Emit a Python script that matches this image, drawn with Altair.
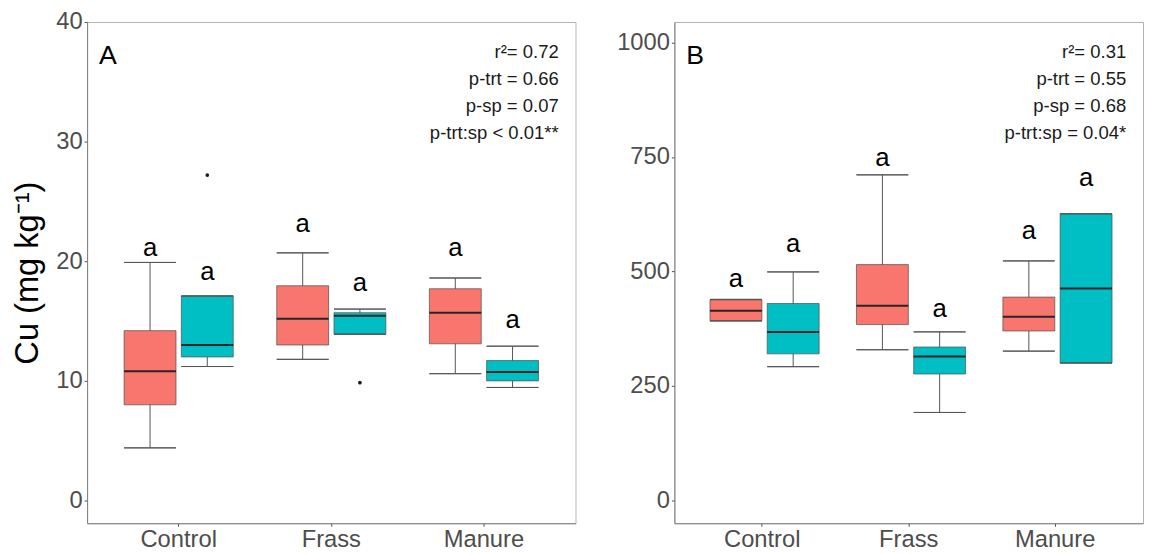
import altair as alt
import pandas as pd

# ---------------- data ----------------
categories = ["Control", "Frass", "Manure"]
species_levels = ["Species 1", "Species 2"]
treatments = ["Control", "Control", "Frass", "Frass", "Manure", "Manure"]
species = ["Species 1", "Species 2", "Species 1", "Species 2", "Species 1", "Species 2"]

# Panel A (Cu, mg/kg)
a_lower = [4.4, 11.2, 11.8, 13.9, 10.6, 9.45]
a_q1 = [8.0, 12.0, 13.0, 13.9, 13.1, 10.0]
a_median = [10.8, 13.0, 15.2, 15.45, 15.7, 10.75]
a_q3 = [14.2, 17.1, 17.95, 15.7, 17.7, 11.7]
a_upper = [19.9, 17.1, 20.7, 16.0, 18.6, 12.9]
a_letter_y = [21.0, 19.0, 23.0, 18.05, 21.0, 15.0]
a_out_trt = ["Control", "Frass"]
a_out_sp = ["Species 2", "Species 2"]
a_out_val = [27.2, 9.85]
a_stats = ["r²= 0.72", "p-trt = 0.66", "p-sp = 0.07", "p-trt:sp < 0.01**"]
a_ticks = [0, 10, 20, 30, 40]

# Panel B
b_lower = [392, 292, 329, 192, 326, 300]
b_q1 = [392, 320, 384, 276, 370, 300]
b_median = [414, 368, 425, 314, 401, 463]
b_q3 = [438, 430, 515, 335, 444, 626]
b_upper = [439, 499, 711, 368, 523, 626]
b_letter_y = [481, 557, 746, 415, 586, 702]
b_out_trt = []
b_out_sp = []
b_out_val = []
b_stats = ["r²= 0.31", "p-trt = 0.55", "p-sp = 0.68", "p-trt:sp = 0.04*"]
b_ticks = [0, 250, 500, 750, 1000]

letters = ["a", "a", "a", "a", "a", "a"]
colors = ["#F8766D", "#00BFC4"]
FONT = "Liberation Sans"


def make_panel(lower, q1, med, q3, upper, letter_y, out_trt, out_sp, out_val,
               stats, panel_letter, domain, ticks, width, height, ytitle):
    df = pd.DataFrame({
        "treatment": treatments, "species": species,
        "lower": lower, "q1": q1, "median": med, "q3": q3, "upper": upper,
        "letter_y": letter_y, "letter": letters,
    })
    out_df = pd.DataFrame({"treatment": out_trt, "species": out_sp, "value": out_val})
    stat_df = pd.DataFrame({"label": ["\n".join(stats)]})
    panel_df = pd.DataFrame({"panel": [panel_letter]})

    x = alt.X("treatment:N", sort=categories,
              scale=alt.Scale(domain=categories, paddingInner=0.25, paddingOuter=0.225),
              axis=alt.Axis(title=None, labelAngle=0))
    xo = alt.XOffset("species:N",
                     scale=alt.Scale(domain=species_levels, paddingInner=0.0933, paddingOuter=0.0467))
    yscale = alt.Scale(domain=domain, nice=False, zero=False)
    if ytitle:
        yaxis = alt.Axis(values=ticks, title=ytitle, titlePadding=11, format="d")
    else:
        yaxis = alt.Axis(values=ticks, title=None, format="d")

    base = alt.Chart(df)
    whisk = base.mark_rule(color="#555555", strokeWidth=1).encode(
        x=x, xOffset=xo,
        y=alt.Y("lower:Q", scale=yscale, axis=yaxis),
        y2="upper:Q",
    )
    box = base.mark_bar(stroke="#4D4D4D", strokeWidth=0.7).encode(
        x=x, xOffset=xo,
        y=alt.Y("q1:Q", scale=yscale),
        y2="q3:Q",
        color=alt.Color("species:N", scale=alt.Scale(domain=species_levels, range=colors), legend=None),
    )
    cap_lo = base.mark_bar(fillOpacity=0, stroke="#555555", strokeWidth=1).encode(
        x=x, xOffset=xo, y=alt.Y("lower:Q", scale=yscale), y2="lower:Q")
    cap_hi = base.mark_bar(fillOpacity=0, stroke="#555555", strokeWidth=1).encode(
        x=x, xOffset=xo, y=alt.Y("upper:Q", scale=yscale), y2="upper:Q")
    median = base.mark_bar(fillOpacity=0, stroke="#262626", strokeWidth=2).encode(
        x=x, xOffset=xo, y=alt.Y("median:Q", scale=yscale), y2="median:Q")
    letter_txt = base.mark_text(fontSize=26, font=FONT, color="black",
                                baseline="alphabetic", dy=7).encode(
        x=x, xOffset=xo, y=alt.Y("letter_y:Q", scale=yscale), text="letter:N")

    layers = [whisk, box, cap_lo, cap_hi, median, letter_txt]
    if len(out_val) > 0:
        outl = alt.Chart(out_df).mark_circle(size=14, color="#1a1a1a", opacity=1).encode(
            x=x, xOffset=xo, y=alt.Y("value:Q", scale=yscale))
        layers.append(outl)

    stat_txt = alt.Chart(stat_df).mark_text(
        align="right", baseline="alphabetic", lineBreak="\n", lineHeight=27.5,
        fontSize=18.7, font=FONT, color="#1a1a1a",
    ).encode(x=alt.value(width - 17), y=alt.value(36), text="label:N")
    panel_txt = alt.Chart(panel_df).mark_text(
        align="left", baseline="alphabetic", fontSize=27, font=FONT, color="black",
    ).encode(x=alt.value(12), y=alt.value(43), text="panel:N")
    layers += [stat_txt, panel_txt]

    return alt.layer(*layers).properties(width=width, height=height)


pa = make_panel(a_lower, a_q1, a_median, a_q3, a_upper, a_letter_y,
                a_out_trt, a_out_sp, a_out_val, a_stats, "A",
                [-1.9, 40], a_ticks, 494, 507, "Cu (mg kg⁻¹)")
pb = make_panel(b_lower, b_q1, b_median, b_q3, b_upper, b_letter_y,
                b_out_trt, b_out_sp, b_out_val, b_stats, "B",
                [-50, 1045], b_ticks, 474, 507, None)

chart = alt.hconcat(pa, pb, spacing=40).properties(
    padding={"left": 3, "top": -2, "right": 0, "bottom": 0},
    background="white",
).configure_view(
    stroke="#B3B3B3", strokeWidth=1
).configure_axis(
    grid=False, labelFont=FONT, labelFontSize=24, labelColor="#4D4D4D",
    tickColor="#4D4D4D", tickSize=3, labelPadding=2,
    domainColor="#7F7F7F", domainWidth=1,
    titleFont=FONT, titleFontSize=33, titleColor="black", titleFontWeight="normal",
)

chart.save("out.html", embed_options={"renderer": "svg", "actions": False})
